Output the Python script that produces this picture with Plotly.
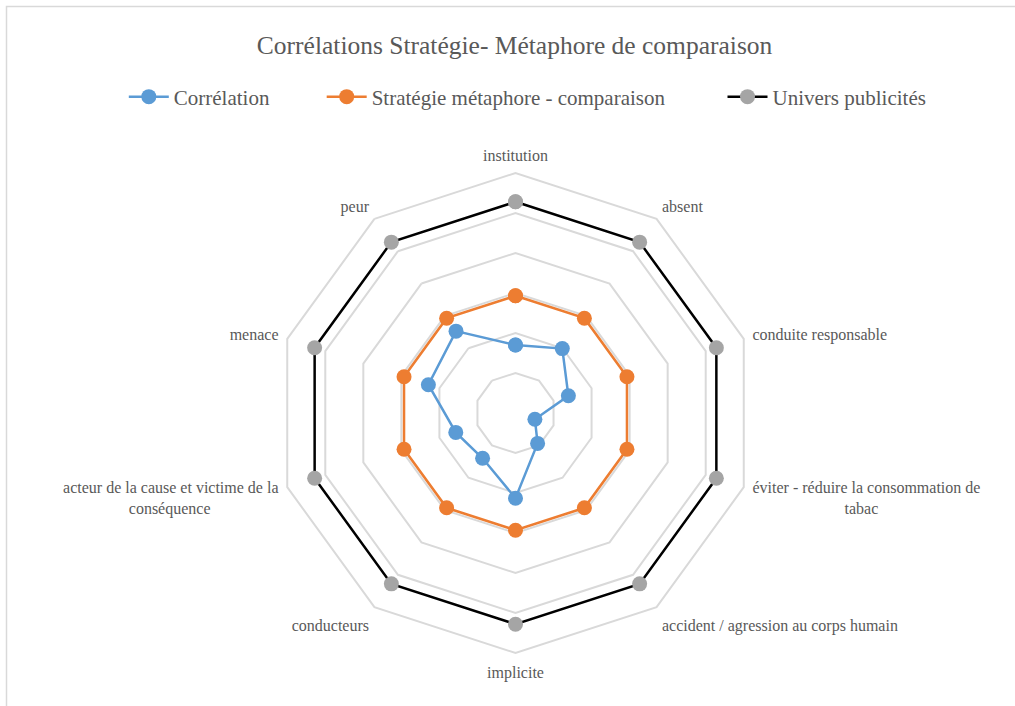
import plotly.graph_objects as go

nb = "\u00a0"
categories = ["institution", "absent", "conduite responsable",
              "éviter - réduire la consommation de<br>" + nb * 23 + "tabac",
              "accident / agression au corps humain", "implicite", "conducteurs",
              "acteur de la cause et victime de la<br>conséquence" + nb * 17, "menace", "peur"]

correlation = [1.70, 1.99, 1.39, 0.51, 0.94, 2.13, 1.40, 1.57, 2.29, 2.53]
strategie = [2.93, 2.93, 2.93, 2.93, 2.93, 2.93, 2.93, 2.93, 2.93, 2.93]
univers = [5.28, 5.28, 5.28, 5.28, 5.28, 5.28, 5.28, 5.28, 5.28, 5.28]

font = "Times New Roman, Liberation Serif, DejaVu Serif, serif"
W, H = 1015, 706


def closed(v):
    return v + v[:1]


fig = go.Figure()
fig.add_trace(go.Scatterpolar(r=closed(correlation), theta=closed(categories), name="Corrélation" + nb * 9,
                              mode="lines+markers", line=dict(color="#5b9bd5", width=2.5),
                              marker=dict(color="#5b9bd5", size=15)))
fig.add_trace(go.Scatterpolar(r=closed(strategie), theta=closed(categories),
                              name="Stratégie métaphore - comparaison" + nb * 10,
                              mode="lines+markers", line=dict(color="#ed7d31", width=2.5),
                              marker=dict(color="#ed7d31", size=15)))
fig.add_trace(go.Scatterpolar(r=closed(univers), theta=closed(categories), name="Univers publicités",
                              mode="lines+markers", line=dict(color="#000000", width=2.5),
                              marker=dict(color="#a5a5a5", size=15)))

# centre (515.5, 413), radius 240 px
cx, cy, rad = 515.5, 413, 240
fig.update_layout(
    width=W, height=H,
    margin=dict(l=0, r=0, t=0, b=0),
    paper_bgcolor="white", plot_bgcolor="white",
    font=dict(family=font, color="#595959"),
    title=dict(text="Corrélations Stratégie- Métaphore de comparaison", x=0.507, xanchor="center",
               y=1 - 45 / H, yanchor="middle", font=dict(size=25.5, color="#595959", family=font)),
    legend=dict(orientation="h", x=0.520, xanchor="center", y=1 - 97 / H, yanchor="middle",
                font=dict(size=21, color="#595959", family=font), itemwidth=40,
                traceorder="normal"),
    polar=dict(
        domain=dict(x=[(cx - rad) / W, (cx + rad) / W], y=[1 - (cy + rad) / H, 1 - (cy - rad) / H]),
        gridshape="linear",
        bgcolor="white",
        radialaxis=dict(range=[0, 6], dtick=1, showticklabels=False, ticks="", showline=False,
                        gridcolor="#d9d9d9", gridwidth=2),
        angularaxis=dict(direction="clockwise", rotation=90, showgrid=False,
                         ticks="outside", ticklen=5, tickcolor="rgba(0,0,0,0)",
                         showline=True, linecolor="#d9d9d9", linewidth=2,
                         tickfont=dict(size=16, color="#595959", family=font)),
    ),
    shapes=[dict(type="rect", xref="paper", yref="paper", x0=6.5 / W, x1=1.05, y0=-0.05, y1=1 - 6.5 / H,
                 line=dict(color="#d9d9d9", width=1.5), fillcolor="rgba(0,0,0,0)", layer="below")],
)

fig.write_html("out.html", config={"displayModeBar": False},
               post_script="document.body.style.margin='0px';")
